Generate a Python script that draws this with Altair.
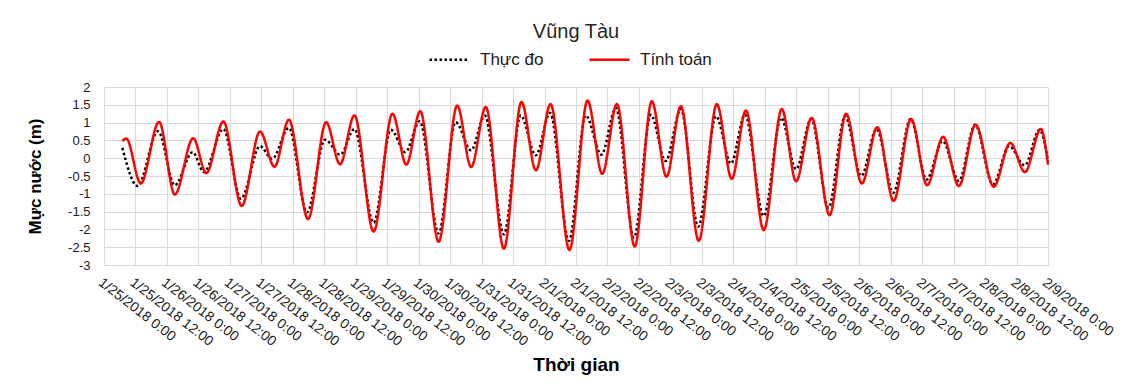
import altair as alt
import pandas as pd

SERIES = ["Thực đo", "Tính toán"]
COLORS = ["#000000", "#FF0000"]
DASHES = [[2.5, 2.5], [1, 0]]

# hours after 1/25/2018 0:00 (turning points)
obs_hours = [7, 12.8, 20.6, 27, 33.8, 38.1, 45.5, 52.2, 59.5, 64.1,
             70.5, 77.4, 84.3, 90.1, 95.5, 102.8, 109.4, 114.9, 120.4, 127.6,
             134.1, 140, 145.2, 152.5, 158.9, 164.7, 170.1, 177.3, 183.7, 189.7,
             195.2, 202.1, 208.5, 214.2, 220, 226.6, 233.4, 239.1, 244.4, 251.6,
             258.2, 263.9, 269.7, 276.3, 282.6, 288.8, 294.6, 301, 307.6, 313.7,
             319.8, 326, 332.2, 339, 345.2, 351.1, 356.8, 360]
obs_level = [0.29, -0.78, 0.76, -0.76, 0.17, -0.39, 0.82, -1.14, 0.34, -0.02,
             0.85, -1.52, 0.52, 0.1, 0.82, -1.81, 0.8, 0.17, 1.04, -2.11,
             1.01, 0.22, 1.2, -2.14, 1.2, 0.08, 1.27, -2.32, 1.2, 0.1,
             1.41, -2.23, 1.22, -0.08, 1.38, -1.92, 1.18, -0.15, 1.22, -1.62,
             1.13, -0.31, 1.1, -1.39, 1.18, -0.5, 0.82, -0.97, 1.1, -0.6,
             0.48, -0.64, 0.94, -0.74, 0.34, -0.2, 0.8, -0.08]

sim_hours = [7, 8.5, 14, 21, 27, 34, 39, 45.5, 52.5, 59.5,
             65, 70.5, 77.8, 84.7, 90, 95.5, 102.8, 110, 115.3, 120.6,
             127.6, 134.7, 140, 145.6, 152.5, 159.2, 164.7, 170.3, 177.5, 184.4,
             190, 195.6, 202.4, 208.9, 214.5, 220, 226.8, 233.7, 239.4, 244.8,
             251.6, 258.5, 263.9, 269.9, 276.7, 283, 289, 294.9, 301.1, 307.8,
             313.9, 320, 326, 332.4, 339.3, 345.6, 351.2, 357.3, 360]
sim_level = [0.48, 0.55, -0.71, 1.02, -1.02, 0.56, -0.42, 1.03, -1.34, 0.75,
             -0.24, 1.08, -1.71, 1.01, -0.17, 1.2, -2.06, 1.25, -0.18, 1.32,
             -2.35, 1.48, -0.25, 1.44, -2.54, 1.58, -0.34, 1.52, -2.58, 1.62,
             -0.44, 1.52, -2.48, 1.6, -0.52, 1.46, -2.32, 1.52, -0.58, 1.34,
             -2.02, 1.38, -0.65, 1.13, -1.6, 1.25, -0.71, 0.87, -1.2, 1.1,
             -0.76, 0.6, -0.78, 0.94, -0.8, 0.43, -0.39, 0.82, -0.18]

tick_hours = list(range(0, 361, 12))
y_ticks = [-3, -2.5, -2, -1.5, -1, -0.5, 0, 0.5, 1, 1.5, 2]

t0 = pd.Timestamp("2018-01-25T00:00:00Z")


def iso(h):
    return (t0 + pd.Timedelta(hours=h)).strftime("%Y-%m-%dT%H:%M:%SZ")


df = pd.DataFrame({
    "time": [iso(h) for h in obs_hours] + [iso(h) for h in sim_hours],
    "level": obs_level + sim_level,
    "series": [SERIES[0]] * len(obs_hours) + [SERIES[1]] * len(sim_hours),
})

tick_ms = [int((t0 + pd.Timedelta(hours=h)).timestamp() * 1000) for h in tick_hours]

FONT = "Liberation Sans"
TXT = "#1a1a1a"
GRID = "#d9d9d9"

legend = alt.Legend(
    orient="none", legendX=324, legendY=-49, direction="horizontal",
    title=None, symbolType="stroke", symbolSize=1600, symbolStrokeWidth=2.5,
    labelFontSize=17, labelFont=FONT, labelColor=TXT, labelOffset=9,
    columnPadding=40, padding=0,
)

x_enc = alt.X(
    "time:T",
    scale=alt.Scale(type="utc", domain=[tick_ms[0], tick_ms[-1]], nice=False),
    axis=alt.Axis(
        values=tick_ms,
        labelExpr="utcFormat(datum.value, '%-m/%-d/%Y %-H:%M')",
        labelAngle=38, labelAlign="left", labelBaseline="top",
        labelPadding=10, labelFontSize=14, labelColor=TXT, labelFont=FONT,
        labelOverlap=False, labelFlush=False,
        ticks=False, domain=False, grid=True, gridColor=GRID, gridWidth=1,
        title="Thời gian", titleFontSize=19, titleFontWeight="bold",
        titleColor="#000000", titleFont=FONT,
        titleX=472, titleY=99, titleBaseline="middle", titleAlign="center",
    ),
)

y_enc = alt.Y(
    "level:Q",
    scale=alt.Scale(domain=[-3, 2], nice=False, zero=False),
    axis=alt.Axis(
        values=y_ticks, labelExpr="datum.value + ''",
        labelFontSize=13, labelColor=TXT, labelFont=FONT, labelPadding=14,
        ticks=False, domain=False, grid=True, gridColor=GRID, gridWidth=1,
        title="Mực nước (m)", titleFontSize=17, titleFontWeight="bold",
        titleColor="#000000", titleFont=FONT,
        titleX=-69, titleY=89, titleAngle=-90, titleBaseline="middle",
        titleAlign="center",
    ),
)

base = alt.Chart(df).encode(
    x=x_enc,
    y=y_enc,
    color=alt.Color("series:N", scale=alt.Scale(domain=SERIES, range=COLORS), legend=legend),
    strokeDash=alt.StrokeDash("series:N", scale=alt.Scale(domain=SERIES, range=DASHES), legend=legend),
)

obs_line = base.transform_filter(alt.datum.series == SERIES[0]).mark_line(
    interpolate="monotone", strokeWidth=2.5)
sim_line = base.transform_filter(alt.datum.series == SERIES[1]).mark_line(
    interpolate="monotone", strokeWidth=2.5)

chart = alt.layer(obs_line, sim_line).properties(
    width=944, height=178,
    autosize=alt.AutoSizeParams(type="none"),
    padding={"left": 96, "top": 79, "right": 82, "bottom": 115},
    title=alt.Title("Vũng Tàu", fontSize=20, fontWeight="normal", color="#262626",
                    font=FONT, anchor="middle", frame="group", offset=-4),
).configure(font=FONT).configure_view(stroke="transparent")

chart.save("out.html", embed_options={"renderer": "svg", "actions": False})
